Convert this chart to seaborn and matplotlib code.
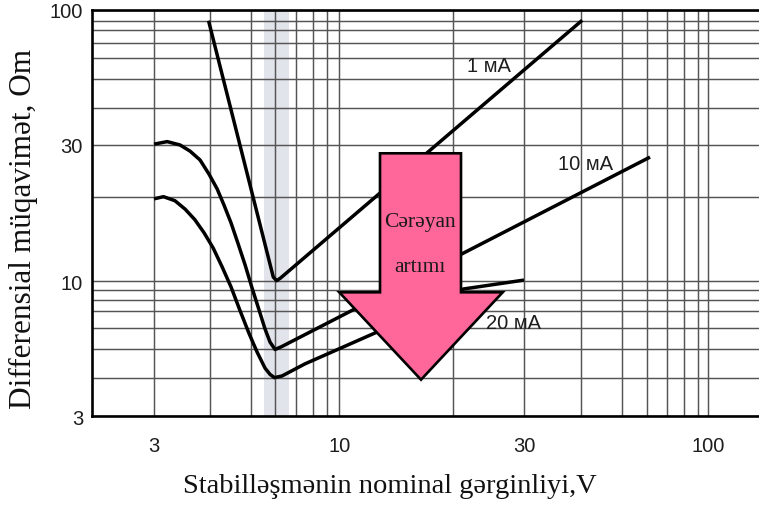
import numpy as np
import pandas as pd
import matplotlib
matplotlib.use("Agg")
import matplotlib.pyplot as plt
from matplotlib.patches import Polygon
import seaborn as sns

# ---------------- data ----------------
v_1ma = [3.97, 5.91, 6.06, 6.24, 40.2]
r_1ma = [90.0, 10.36, 10.05, 10.27, 90.4]

v_10ma = [3.0, 3.21, 3.43, 3.61, 3.80, 3.98, 4.16, 4.32, 4.49, 4.66, 4.85,
          5.05, 5.32, 5.56, 5.77, 5.99, 6.31, 61.4]
r_10ma = [30.2, 30.8, 30.0, 28.6, 26.7, 23.9, 21.3, 18.7, 16.15, 13.7, 11.43,
          9.25, 7.08, 5.95, 5.30, 4.97, 5.10, 27.3]

v_20ma = [3.0, 3.15, 3.34, 3.52, 3.70, 3.88, 4.07, 4.27, 4.49, 4.71, 4.95,
          5.24, 5.56, 5.77, 5.96, 6.31, 7.53, 12.55, 16.3, 21.2, 30.0]
r_20ma = [19.7, 20.05, 19.4, 18.1, 16.6, 14.9, 13.15, 11.3, 9.35, 7.08, 5.74,
          4.88, 4.32, 4.12, 4.02, 4.07, 4.46, 5.78, 7.17, 9.14, 10.1]

series_names = ["1 мА", "10 мА", "20 мА"]

x_ticks = [3, 10, 30, 100]
x_tick_labels = ["3", "10", "30", "100"]
y_ticks = [3, 10, 30, 100]
y_tick_labels = ["3", "10", "30", "100"]
x_grid_minor = [4, 5, 6, 7, 8, 9, 20, 40, 50, 60, 70, 80, 90]
y_grid_minor = [4, 5, 6, 7, 8, 9, 20, 40, 50, 60, 70, 80, 90]

band_range = (5.53, 6.64)

x_label = "Stabilləşmənin nominal gərginliyi,V"
y_label = "Differensial müqavimət, Om"
arrow_text = ["Cərəyan", "artımı"]

# ---------------- the chart's own (hand drawn) log grid ----------------
# knots of the printed grid: value -> position on the sheet
x_knot_val = [2.2, 3, 4, 5, 6, 7, 8, 9, 10, 20, 30, 40, 50, 60, 70, 80, 90, 100, 140]
x_knot_pos = [92, 154, 210, 250.7, 275.3, 295.7, 312.7, 326.7, 339.3, 453.3,
              524, 581.3, 622.3, 647, 667.3, 684.3, 698.3, 708.3, 759]
y_knot_val = [3, 4, 5, 6, 7, 8, 9, 10, 20, 30, 40, 50, 60, 70, 80, 90, 100]
y_knot_pos = [-417.3, -379.3, -349.7, -329, -312, -300.7, -291.3, -282.3, -198,
              -146, -109, -80, -59, -43.7, -31.3, -21.7, -11]


def make_scale(vals, pos):
    lv = np.log10(np.asarray(vals, float))
    p = np.asarray(pos, float)
    s0 = (p[1] - p[0]) / (lv[1] - lv[0])
    s1 = (p[-1] - p[-2]) / (lv[-1] - lv[-2])

    def fwd(x):
        x = np.asarray(x, float)
        with np.errstate(all="ignore"):
            l = np.log10(np.where(x > 0, x, 1e-12))
        out = np.interp(l, lv, p)
        out = np.where(l < lv[0], p[0] + (l - lv[0]) * s0, out)
        out = np.where(l > lv[-1], p[-1] + (l - lv[-1]) * s1, out)
        return out

    def inv(y):
        y = np.asarray(y, float)
        l = np.interp(y, p, lv)
        l = np.where(y < p[0], lv[0] + (y - p[0]) / s0, l)
        l = np.where(y > p[-1], lv[-1] + (y - p[-1]) / s1, l)
        return 10.0 ** l

    return fwd, inv


# ---------------- figure ----------------
sns.set_theme(style="white")
plt.rcParams["font.family"] = ["Liberation Sans", "DejaVu Sans"]

W, H = 759, 506
fig = plt.figure(figsize=(W / 100, H / 100), dpi=100)
ax_l, ax_r, ax_t, ax_b = 92, 759, 11, 417.3
ax = fig.add_axes([ax_l / W, 1 - ax_b / H, (ax_r - ax_l) / W, (ax_b - ax_t) / H])

df = pd.concat([
    pd.DataFrame({"V": v_1ma, "R": r_1ma, "I": series_names[0]}),
    pd.DataFrame({"V": v_10ma, "R": r_10ma, "I": series_names[1]}),
    pd.DataFrame({"V": v_20ma, "R": r_20ma, "I": series_names[2]}),
], ignore_index=True)

sns.lineplot(data=df, x="V", y="R", hue="I", units="I", estimator=None, sort=False,
             palette={n: "black" for n in series_names}, linewidth=2.5,
             legend=False, ax=ax, zorder=3)
for ln in ax.get_lines():
    ln.set_solid_joinstyle("round")
    ln.set_solid_capstyle("butt")

fx, ix = make_scale(x_knot_val, x_knot_pos)
fy, iy = make_scale(y_knot_val, y_knot_pos)
ax.set_xscale("function", functions=(fx, ix))
ax.set_yscale("function", functions=(fy, iy))
ax.set_xlim(x_knot_val[0], x_knot_val[-1])
ax.set_ylim(y_knot_val[0], y_knot_val[-1])

# shaded band
ax.axvspan(band_range[0], band_range[1], color="#e2e4eb", lw=0, zorder=0.2)

# ticks and grid
ax.set_xticks(x_ticks)
ax.set_xticklabels(x_tick_labels)
ax.set_yticks(y_ticks)
ax.set_yticklabels(y_tick_labels)
ax.set_xticks(x_grid_minor, minor=True)
ax.set_yticks(y_grid_minor, minor=True)
ax.tick_params(axis="both", which="both", length=0, labelsize=14.5, labelcolor="#1e1e1e")
ax.tick_params(axis="x", pad=14)
ax.tick_params(axis="y", pad=6.5)
ax.set_axisbelow(True)
ax.grid(True, which="both", color="#555555", linewidth=1.05)

for side in ["left", "bottom", "top"]:
    ax.spines[side].set_visible(True)
    ax.spines[side].set_color("black")
    ax.spines[side].set_linewidth(1.9)
ax.spines["right"].set_visible(False)

# axis labels
serif = ["Liberation Serif", "DejaVu Serif"]
ax.set_xlabel(x_label, fontsize=20.5, family=serif, color="#111111")
ax.xaxis.set_label_coords((390 - ax_l) / (ax_r - ax_l), (ax_b - 474) / (ax_b - ax_t))
ax.set_ylabel(y_label, fontsize=22.5, family=serif, color="#111111")
ax.yaxis.label.set_verticalalignment("center")
ax.yaxis.set_label_coords((23 - ax_l) / (ax_r - ax_l), (ax_b - 228.5) / (ax_b - ax_t))


def axfrac(px, py):
    return ((px - ax_l) / (ax_r - ax_l), (ax_b - py) / (ax_b - ax_t))


# series labels
for name, (px, py) in zip(series_names, [(488.7, 71.7), (585.3, 170), (514, 329.3)]):
    ax.text(*axfrac(px, py), name, transform=ax.transAxes, ha="center", va="baseline",
            fontsize=14.5, color="#1e1e1e", zorder=6)

# block arrow "current increase"
arrow_px = [(380, 154.3), (461, 154.3), (461, 293.3), (502.7, 293.3), (421, 380.7),
            (339.3, 293.3), (380, 293.3)]
poly = Polygon([axfrac(px, py) for px, py in arrow_px], closed=True,
               transform=ax.transAxes, facecolor="#ff6699", edgecolor="black",
               linewidth=1.9, joinstyle="miter", zorder=5)
ax.add_patch(poly)
for t, (px, py) in zip(arrow_text, [(420, 227.3), (420, 271.7)]):
    ax.text(*axfrac(px, py), t, transform=ax.transAxes, ha="center", va="baseline",
            fontsize=15.5, family=serif, color="#1a1a1a", zorder=6)

fig.savefig("out.png", dpi=100)
